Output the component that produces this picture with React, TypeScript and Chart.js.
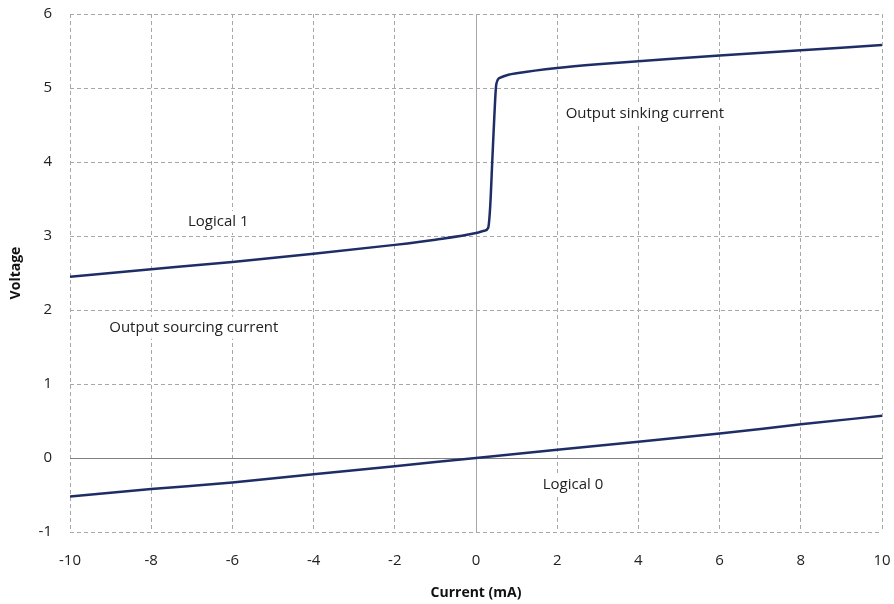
import React, { useEffect, useRef } from "react";
import { Chart, registerables } from "chart.js";

Chart.register(...registerables);

const upperX = [-10, -8, -6, -4, -2, -1, 0, 0.2, 0.3, 0.35, 0.4, 0.45, 0.5, 0.6, 0.8, 1, 2, 3, 4, 6, 8, 10];
const upperY = [2.45, 2.55, 2.65, 2.76, 2.88, 2.95, 3.04, 3.07, 3.11, 3.4, 4.0, 4.6, 5.05, 5.14, 5.18, 5.2, 5.27, 5.32, 5.36, 5.44, 5.51, 5.58];
const lowerX = [-10, -8, -6, -4, -2, 0, 2, 4, 6, 8, 10];
const lowerY = [-0.52, -0.42, -0.33, -0.22, -0.11, 0, 0.11, 0.22, 0.33, 0.455, 0.57];

const noteTexts = ["Logical 1", "Output sinking current", "Output sourcing current", "Logical 0"];
const noteX = [-6.35, 4.16, -6.95, 2.39];
const noteY = [3.19, 4.65, 1.76, -0.36];

const FONT = "'Open Sans', Lato, sans-serif";
const LINE = "#1f2d66";

const notesPlugin = {
  id: "notes",
  beforeDatasetsDraw(chart: any) {
    const { ctx, scales } = chart;
    ctx.save();
    ctx.font = `15px ${FONT}`;
    ctx.textAlign = "center";
    ctx.textBaseline = "middle";
    noteTexts.forEach((t, i) => {
      const px = scales.x.getPixelForValue(noteX[i]);
      const py = scales.y.getPixelForValue(noteY[i]);
      const w = ctx.measureText(t).width;
      ctx.fillStyle = "#ffffff";
      ctx.fillRect(px - w / 2 - 4, py - 11, w + 8, 22);
      ctx.fillStyle = "#222222";
      ctx.fillText(t, px, py);
    });
    ctx.restore();
  },
};

export default function App() {
  const ref = useRef<HTMLCanvasElement>(null);
  useEffect(() => {
    if (!ref.current) return;
    const chart = new Chart(ref.current, {
      type: "line",
      data: {
        datasets: [
          {
            data: upperX.map((x, i) => ({ x, y: upperY[i] })),
            borderColor: LINE,
            borderWidth: 2.5,
            pointRadius: 0,
            cubicInterpolationMode: "monotone",
          },
          {
            data: lowerX.map((x, i) => ({ x, y: lowerY[i] })),
            borderColor: LINE,
            borderWidth: 2.5,
            pointRadius: 0,
            cubicInterpolationMode: "monotone",
          },
        ],
      },
      options: {
        animation: false,
        responsive: false,
        layout: { padding: { left: 0, right: 12, top: 14, bottom: 0 } },
        plugins: { legend: { display: false }, tooltip: { enabled: false } },
        scales: {
          x: {
            type: "linear",
            min: -10,
            max: 10,
            afterFit: (s: any) => { s.height = 72; s.paddingLeft = 0; s.paddingRight = 0; },
            ticks: {
              stepSize: 2,
              color: "#222",
              padding: 20,
              font: { family: FONT, size: 15 },
            },
            grid: {
              drawTicks: false,
              color: "#a8a8a8",
              lineWidth: 1,
            },
            border: {
              display: false,
              dash: (c: any) => (c.tick && c.tick.value === 0 ? [] : [4, 3]),
            },
            title: {
              display: true,
              text: "Current (mA)",
              color: "#111",
              font: { family: FONT, size: 14, weight: "bold" },
              padding: { top: 0, bottom: 3 },
            },
          },
          y: {
            type: "linear",
            min: -1,
            max: 6,
            afterFit: (s: any) => { s.width = 70; s.paddingTop = 0; s.paddingBottom = 0; },
            ticks: {
              stepSize: 1,
              color: "#222",
              padding: 18,
              font: { family: FONT, size: 15 },
            },
            grid: {
              drawTicks: false,
              color: (c: any) => (c.tick && c.tick.value === 0 ? "#808080" : "#a8a8a8"),
              lineWidth: 1,
            },
            border: {
              display: false,
              dash: (c: any) => (c.tick && c.tick.value === 0 ? [] : [4, 3]),
            },
            title: {
              display: true,
              text: "Voltage",
              color: "#111",
              font: { family: FONT, size: 14, weight: "bold" },
              padding: { top: 8, bottom: 0 },
            },
          },
        },
      } as any,
      plugins: [notesPlugin],
    });
    return () => chart.destroy();
  }, []);
  return (
    <div style={{ position: "fixed", left: 0, top: 0, width: 894, height: 604, background: "#fff" }}>
      <canvas ref={ref} width={894} height={604} />
    </div>
  );
}
